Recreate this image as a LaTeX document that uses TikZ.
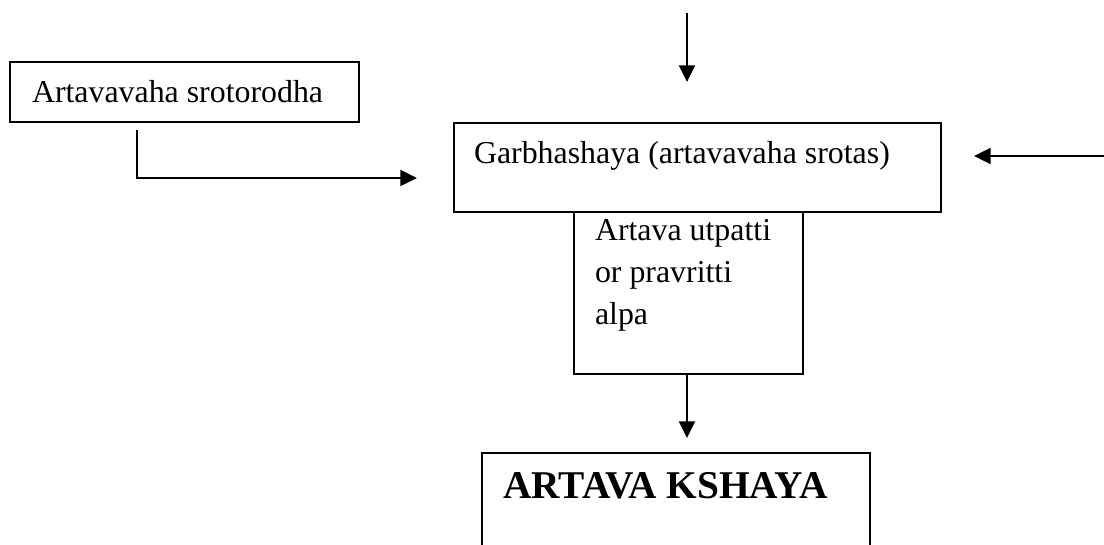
\documentclass[tikz,border=0pt]{standalone}
\usepackage{fontspec}
\setmainfont{Liberation Serif}
\usetikzlibrary{arrows.meta}
\begin{document}
\begin{tikzpicture}[x=0.75pt,y=-0.75pt,
  boxframe/.style={draw=black,line width=1.4pt,inner sep=0pt,outer sep=0pt,anchor=north west},
  txt/.style={inner sep=0pt,outer sep=0pt,anchor=base west,font=\fontsize{23.9pt}{31.5pt}\selectfont},
  conn/.style={line width=1.5pt,-{Triangle[length=12.5pt,width=12pt]}}
]
\useasboundingbox[fill=white] (0,0) rectangle (1104,544);
% boxes
\node[boxframe,minimum width=349*0.75pt,minimum height=60*0.75pt] (b1) at (10,62) {};
\node[boxframe,minimum width=487*0.75pt,minimum height=89*0.75pt] (b2) at (454,123) {};
\node[boxframe,minimum width=229*0.75pt,minimum height=162*0.75pt] (b3) at (574,212) {};
\draw[line width=1.4pt] (482,560) -- (482,453) -- (870,453) -- (870,560);
\node[inner sep=0pt,minimum width=388*0.75pt,minimum height=91*0.75pt,anchor=north west] (b4) at (482,453) {};
% texts
\node[txt] (t1) at (32,102) {Artavavaha srotorodha};
\node[txt] (t2) at (474,163) {Garbhashaya (artavavaha srotas)};
\node[txt] (t3a) at (595,240) {Artava utpatti};
\node[txt] (t3b) at (595,282) {or pravritti};
\node[txt] (t3c) at (595,324) {alpa};
\node[inner sep=0pt,anchor=base west,font=\fontsize{29.5pt}{34pt}\selectfont\bfseries] (t4) at (503,498) {ARTAVA KSHAYA};
% connectors
\coordinate (topstart) at (687,13);
\coordinate (topend) at (687,82);
\draw[conn] (topstart) -- (topend);
\coordinate (lstart) at (137,130);
\coordinate (lend) at (417,178);
\draw[conn] (lstart) |- (lend);
\coordinate (rstart) at (1104,156);
\coordinate (rend) at (974,156);
\draw[conn] (rstart) -- (rend);
\coordinate (bend) at (687,438);
\draw[conn] (b3.south -| bend) -- (bend);
\end{tikzpicture}
\end{document}
